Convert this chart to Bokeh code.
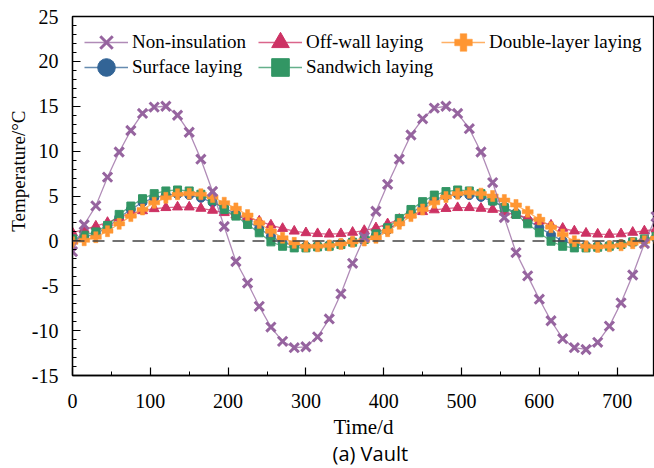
from bokeh.plotting import figure
from bokeh.models import (Range1d, FixedTicker, Span, Legend, LegendItem, Title,
                          ColumnDataSource, CustomJSTickFormatter)
from bokeh.embed import file_html
from bokeh.resources import INLINE

# ---------------- data ----------------
days = list(range(0, 751, 15))

non_insulation = [-1.2, 1.8, 3.9, 7.1, 9.9, 12.3, 14.2, 14.9, 15.0, 14.0,
                  12.1, 9.1, 5.5, 1.6, -2.3, -4.7, -7.3, -9.6, -11.2, -11.9,
                  -11.8, -10.7, -8.7, -5.9, -2.5, 0.4, 3.3, 6.3, 9.1, 11.8,
                  13.6, 14.8, 15.0, 14.2, 12.5, 9.9, 6.5, 2.6, -1.3, -3.9,
                  -6.5, -8.9, -10.9, -11.9, -12.1, -11.3, -9.5, -6.9, -3.8, -0.3,
                  2.7]

surface = [0.1, 0.4, 0.8, 1.5, 2.6, 3.5, 4.3, 4.8, 5.1, 5.2,
           5.1, 4.8, 4.3, 3.7, 3.0, 2.2, 1.4, 0.5, -0.2, -0.5,
           -0.6, -0.55, -0.45, -0.3, -0.1, 0.2, 0.6, 1.2, 2.1, 3.1,
           3.9, 4.6, 5.0, 5.2, 5.1, 4.9, 4.4, 3.8, 3.1, 2.3,
           1.5, 0.7, 0.0, -0.4, -0.55, -0.55, -0.5, -0.35, -0.15, 0.1,
           0.4]

off_wall = [0.9, 1.27, 1.64, 2.05, 2.6, 3.05, 3.35, 3.58, 3.7, 3.77,
            3.77, 3.62, 3.4, 3.14, 2.87, 2.65, 2.2, 1.76, 1.38, 1.08,
            0.9, 0.8, 0.75, 0.8, 0.95, 1.15, 1.45, 1.9, 2.4, 2.9,
            3.25, 3.45, 3.6, 3.7, 3.7, 3.62, 3.5, 3.2, 2.9, 2.58,
            2.2, 1.75, 1.4, 1.1, 0.85, 0.75, 0.72, 0.78, 0.95, 1.1,
            1.3]

sandwich = [0.22, 0.63, 1.0, 1.72, 2.95, 3.88, 4.7, 5.26, 5.56, 5.67,
            5.56, 5.19, 4.52, 3.5, 2.76, 1.83, 0.9, -0.11, -0.6, -0.78,
            -0.78, -0.67, -0.6, -0.41, -0.15, 0.15, 0.78, 1.46, 2.5, 3.5,
            4.37, 5.1, 5.49, 5.67, 5.56, 5.26, 4.44, 3.7, 2.95, 1.9,
            0.9, -0.04, -0.6, -0.78, -0.78, -0.71, -0.6, -0.41, -0.11, 0.22,
            0.5]

double_layer = [-0.15, 0.07, 0.41, 1.08, 1.9, 2.76, 3.5, 4.25, 4.8, 5.19,
                5.26, 5.19, 4.89, 4.25, 3.62, 2.87, 2.0, 1.08, 0.34, -0.22,
                -0.6, -0.6, -0.52, -0.34, -0.11, 0.04, 0.34, 1.08, 1.9, 2.76,
                3.5, 4.25, 4.89, 5.26, 5.37, 5.26, 5.0, 4.55, 4.0, 3.25,
                2.39, 1.53, 0.71, -0.04, -0.6, -0.67, -0.6, -0.49, -0.26, -0.04,
                0.3]

series_names = ["Non-insulation", "Surface laying", "Off-wall laying",
                "Sandwich laying", "Double-layer laying"]

x_ticks = [0, 100, 200, 300, 400, 500, 600, 700]
x_minor = [50, 150, 250, 350, 450, 550, 650, 750]
y_ticks = [-15, -10, -5, 0, 5, 10, 15, 20, 25]
y_minor = list(range(-15, 26))

# ---------------- figure ----------------
SERIF = "Liberation Serif"

p = figure(width=654, height=465, output_backend="svg", toolbar_location=None,
           x_range=Range1d(0, 748), y_range=Range1d(-15, 25),
           min_border_left=72, min_border_right=0, min_border_top=16,
           min_border_bottom=90)
p.background_fill_color = "white"
p.border_fill_color = "white"
p.outline_line_color = "black"
p.outline_line_width = 1.3
p.xgrid.visible = False
p.ygrid.visible = False

plain = CustomJSTickFormatter(code="return tick.toString();")
for ax in (p.xaxis[0], p.yaxis[0]):
    ax.formatter = plain
    ax.axis_line_color = "black"
    ax.axis_line_width = 1.3
    ax.major_tick_in = 8
    ax.major_tick_out = 0
    ax.minor_tick_in = 4
    ax.minor_tick_out = 0
    ax.major_tick_line_color = "black"
    ax.minor_tick_line_color = "black"
    ax.major_tick_line_width = 1.2
    ax.minor_tick_line_width = 1.0
    ax.major_label_text_font = SERIF
    ax.major_label_text_font_size = "20px"
    ax.major_label_text_color = "black"
    ax.axis_label_text_font = SERIF
    ax.axis_label_text_font_style = "normal"
    ax.axis_label_text_font_size = "21px"
    ax.axis_label_text_color = "black"

p.xaxis[0].ticker = FixedTicker(ticks=x_ticks, minor_ticks=x_minor)
p.yaxis[0].ticker = FixedTicker(ticks=y_ticks, minor_ticks=y_minor)
p.xaxis[0].major_label_standoff = 18
p.yaxis[0].major_label_standoff = 14
p.xaxis[0].axis_label = "Time/d"
p.xaxis[0].axis_label_standoff = 4

zero = Span(location=0, dimension="width", line_color="#444444",
            line_dash="12 8", line_width=1.5)
p.add_layout(zero)

src = ColumnDataSource(data=dict(day=days, non=non_insulation, sur=surface,
                                 off=off_wall, san=sandwich, dbl=double_layer))

colors = {"non": "#96649f", "sur": "#326496", "off": "#cd3264",
          "san": "#329664", "dbl": "#ff9632"}

renderers = {}

def add_series(key, marker, size, filled=True, lw=1.0):
    c = colors[key]
    ln = p.line("day", key, source=src, line_color=c, line_width=1.3,
                line_alpha=0.75)
    if filled:
        sc = p.scatter("day", key, source=src, marker=marker, size=size,
                       fill_color=c, line_color=c, line_width=lw)
    else:
        sc = p.scatter("day", key, source=src, marker=marker, size=size,
                       line_color=c, line_width=lw)
    renderers[key] = [ln, sc]

add_series("sur", "circle", 9)
add_series("off", "triangle", 10)
add_series("san", "square", 8)
add_series("dbl", "plus", 11, lw=0.5)
add_series("non", "x", 13, filled=False, lw=3)

# one legend per entry, arranged as the reference's 3 x 2 grid
order = ["non", "sur", "off", "san", "dbl"]
legend_pos = {"non": (12, 311), "sur": (12, 286), "off": (186, 311),
              "san": (186, 286), "dbl": (369, 311)}
for name, key in zip(series_names, order):
    lg = Legend(items=[LegendItem(label=name, renderers=renderers[key])],
                location=legend_pos[key], margin=0, padding=0,
                glyph_width=44, glyph_height=44, spacing=0,
                label_standoff=4, label_text_font=SERIF,
                label_text_font_size="19px", label_text_color="black",
                background_fill_alpha=0, border_line_alpha=0)
    p.add_layout(lg, "center")

ylab = Title(text="Temperature/°C", align="right", offset=94,
             text_font=SERIF, text_font_size="19px", text_font_style="normal",
             text_color="black", standoff=0)
p.add_layout(ylab, "left")

sub = Title(text="(a) Vault", align="left", offset=260, text_font="Open Sans",
            text_font_size="20px", text_font_style="normal",
            text_color="black", standoff=-8)
p.add_layout(sub, "below")

open("out.html", "w").write(file_html(p, INLINE))
